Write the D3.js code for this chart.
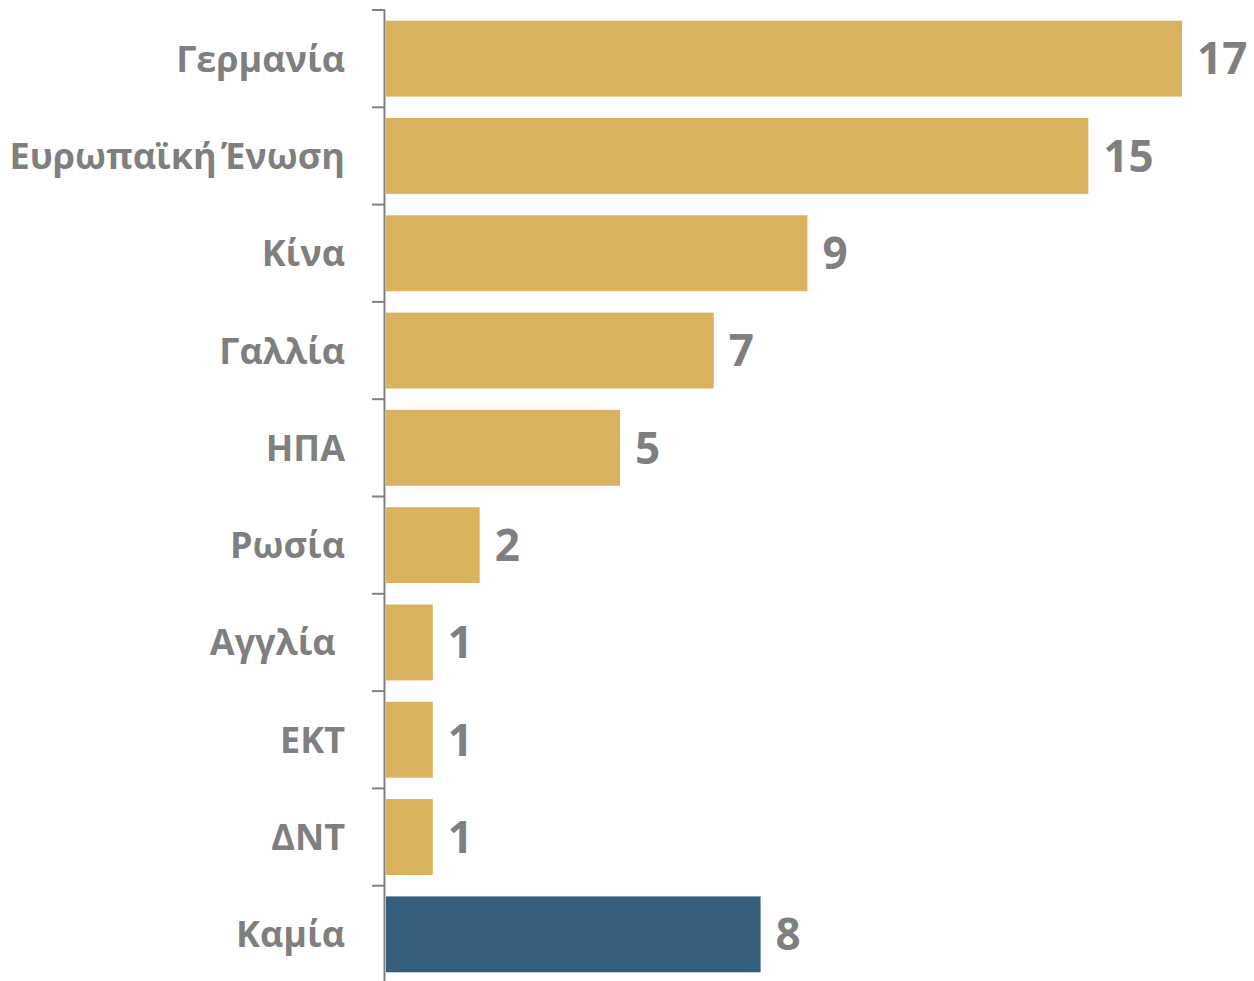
<!DOCTYPE html>
<html><head><meta charset="utf-8">
<script src="https://cdn.jsdelivr.net/npm/d3@7"></script>
<style>
html,body{margin:0;padding:0;background:#fff;}
svg text{font-family:"Open Sans",sans-serif;font-weight:700;fill:#7f7f7f;white-space:pre;}
</style></head>
<body><svg id="c" width="1254" height="981"></svg>
<script>
const categories = ["Γερμανία","Ευρωπαϊκή Ένωση","Κίνα","Γαλλία","ΗΠΑ","Ρωσία","Αγγλία ","ΕΚΤ","ΔΝΤ","Καμία"];
const values = [17,15,9,7,5,2,1,1,1,8];
const highlight = ["Καμία"];

const svg = d3.select("#c");
const x = d3.scaleLinear().domain([0,17]).range([386,1182]);
const y = d3.scaleBand().domain(categories).range([10,983]).paddingInner(0.22).paddingOuter(0.11);

svg.selectAll("rect.bar").data(categories).join("rect")
  .attr("x", x(0)).attr("y", d=>y(d))
  .attr("width", (d,i)=>x(values[i])-x(0)).attr("height", y.bandwidth())
  .attr("fill", d=>highlight.includes(d) ? "#365e7d" : "#d9b25f");

// axis line + ticks
const step = y.step();
svg.append("line").attr("x1",384.5).attr("x2",384.5).attr("y1",10).attr("y2",981)
  .attr("stroke","#808080").attr("stroke-width",2);
const tickYs = d3.range(categories.length).map(i => y.range()[0] + i*step);
svg.selectAll("line.tick").data(tickYs).join("line")
  .attr("x1",372).attr("x2",385).attr("y1",d=>d).attr("y2",d=>d)
  .attr("stroke","#808080").attr("stroke-width",2);

svg.selectAll("text.cat").data(categories).join("text")
  .attr("x",345).attr("y",d=>y(d)+y.bandwidth()/2)
  .attr("dy","0.36em").attr("text-anchor","end")
  .style("font-size","36px")
  .style("word-spacing", d => d.trim().includes(" ") ? "-5px" : "0px")
  .text(d=>d);

svg.selectAll("text.val").data(categories).join("text")
  .attr("x",(d,i)=>x(values[i])+15).attr("y",d=>y(d)+y.bandwidth()/2)
  .attr("dy","0.36em").attr("text-anchor","start")
  .style("font-size","44px").text((d,i)=>values[i]);
</script></body></html>
